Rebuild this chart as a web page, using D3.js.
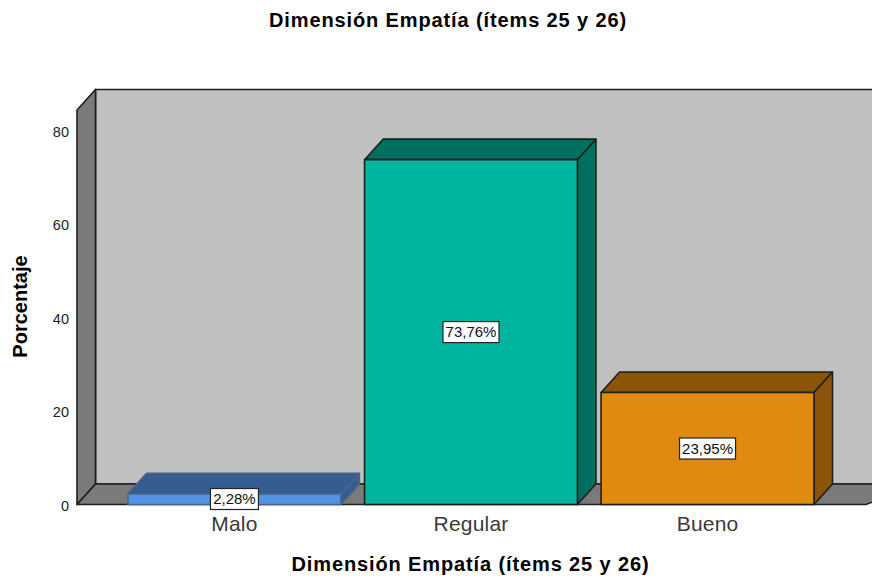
<!DOCTYPE html>
<html><head><meta charset="utf-8">
<script src="https://cdnjs.cloudflare.com/ajax/libs/d3/7.9.0/d3.min.js"></script>
<style>html,body{margin:0;padding:0;background:#fff}svg{display:block}text{font-family:"Liberation Sans",Arial,sans-serif}</style>
</head><body><svg id="c" width="872" height="578"></svg>
<script>
const categories = ["Malo","Regular","Bueno"];
const values = [2.28,73.76,23.95];
const valueLabels = ["2,28%","73,76%","23,95%"];
const frontColors = ["#5393e6","#00b5a0","#e08a10"];
const darkColors = ["#355d91","#006f60","#8a5508"];
const edgeColors = ["#4a6488","#1e1e1e","#1e1e1e"];
const yTicks = [0,20,40,60,80];
const chartTitle = "Dimensión Empatía (ítems 25 y 26)";
const yTitle = "Porcentaje";

const svg = d3.select("#c");
const W = 872, dx = 18.5, dy = 20.5;
const y = d3.scaleLinear().domain([0,80]).range([504.5,130.5]);
const x = d3.scaleBand().domain(categories).range([128,814]).paddingInner(0.1);
const wallLeft = 77, floorRight = 866, wallTop = y(84.4);
const poly = pts => pts.map(p=>p.join(",")).join(" ");
const P = (pts,fill,stroke="#1e1e1e",sw=1.6)=>svg.append("polygon").attr("points",poly(pts)).attr("fill",fill).attr("stroke",stroke).attr("stroke-width",sw).attr("stroke-linejoin","round");

// back wall (runs past the right edge), left wall, floor
P([[wallLeft+dx,wallTop-dy],[W+10,wallTop-dy],[W+10,y(0)-dy],[wallLeft+dx,y(0)-dy]],"#c0c0c0");
P([[wallLeft,wallTop],[wallLeft+dx,wallTop-dy],[wallLeft+dx,y(0)-dy],[wallLeft,y(0)]],"#7a7a7a");
P([[wallLeft,y(0)],[wallLeft+dx,y(0)-dy],[W+10,y(0)-dy],[W+10,y(0)-dy+14.5],[floorRight,y(0)]],"#7a7a7a");

// bars
categories.forEach((c,i)=>{
  const x0=x(c), x1=x0+x.bandwidth(), yt=y(values[i]), yb=y(0);
  P([[x0,yt],[x0+dx,yt-dy],[x1+dx,yt-dy],[x1,yt]],darkColors[i],edgeColors[i]);
  P([[x1,yt],[x1+dx,yt-dy],[x1+dx,yb-dy],[x1,yb]],darkColors[i],edgeColors[i]);
  P([[x0,yt],[x1,yt],[x1,yb],[x0,yb]],frontColors[i],edgeColors[i]);
});

// y axis tick labels
svg.append("g").selectAll("text").data(yTicks).join("text")
  .attr("x",69).attr("y",d=>y(d)+1).attr("dy","0.35em").attr("text-anchor","end")
  .attr("font-size",14.5).attr("fill","#222").text(d=>d);

// category labels
svg.append("g").selectAll("text").data(categories).join("text")
  .attr("x",d=>x(d)+x.bandwidth()/2).attr("y",531).attr("text-anchor","middle")
  .attr("font-size",21).attr("letter-spacing",0.2).attr("fill","#3a3a3a").text(d=>d);

// value labels
categories.forEach((c,i)=>{
  const cx=x(c)+x.bandwidth()/2;
  const yc = i===0 ? 499 : y(values[i]/2);
  const w = i===0?48:56, h=21;
  svg.append("rect").attr("x",cx-w/2).attr("y",yc-h/2).attr("width",w).attr("height",h)
    .attr("fill","#fff").attr("stroke","#222").attr("stroke-width",1.2);
  svg.append("text").attr("x",cx).attr("y",yc).attr("dy","0.35em").attr("text-anchor","middle")
    .attr("font-size",15).attr("fill","#111").text(valueLabels[i]);
});

// titles
svg.append("text").attr("x",448).attr("y",27).attr("text-anchor","middle").attr("font-size",20).attr("letter-spacing",0.88).attr("font-weight","bold").attr("fill","#000").text(chartTitle);
svg.append("text").attr("x",470.5).attr("y",571).attr("text-anchor","middle").attr("font-size",20).attr("letter-spacing",0.88).attr("font-weight","bold").attr("fill","#000").text(chartTitle);
svg.append("text").attr("transform","translate(26.5,306.5) rotate(-90)").attr("text-anchor","middle").attr("font-size",20).attr("font-weight","bold").attr("fill","#000").text(yTitle);
</script></body></html>
